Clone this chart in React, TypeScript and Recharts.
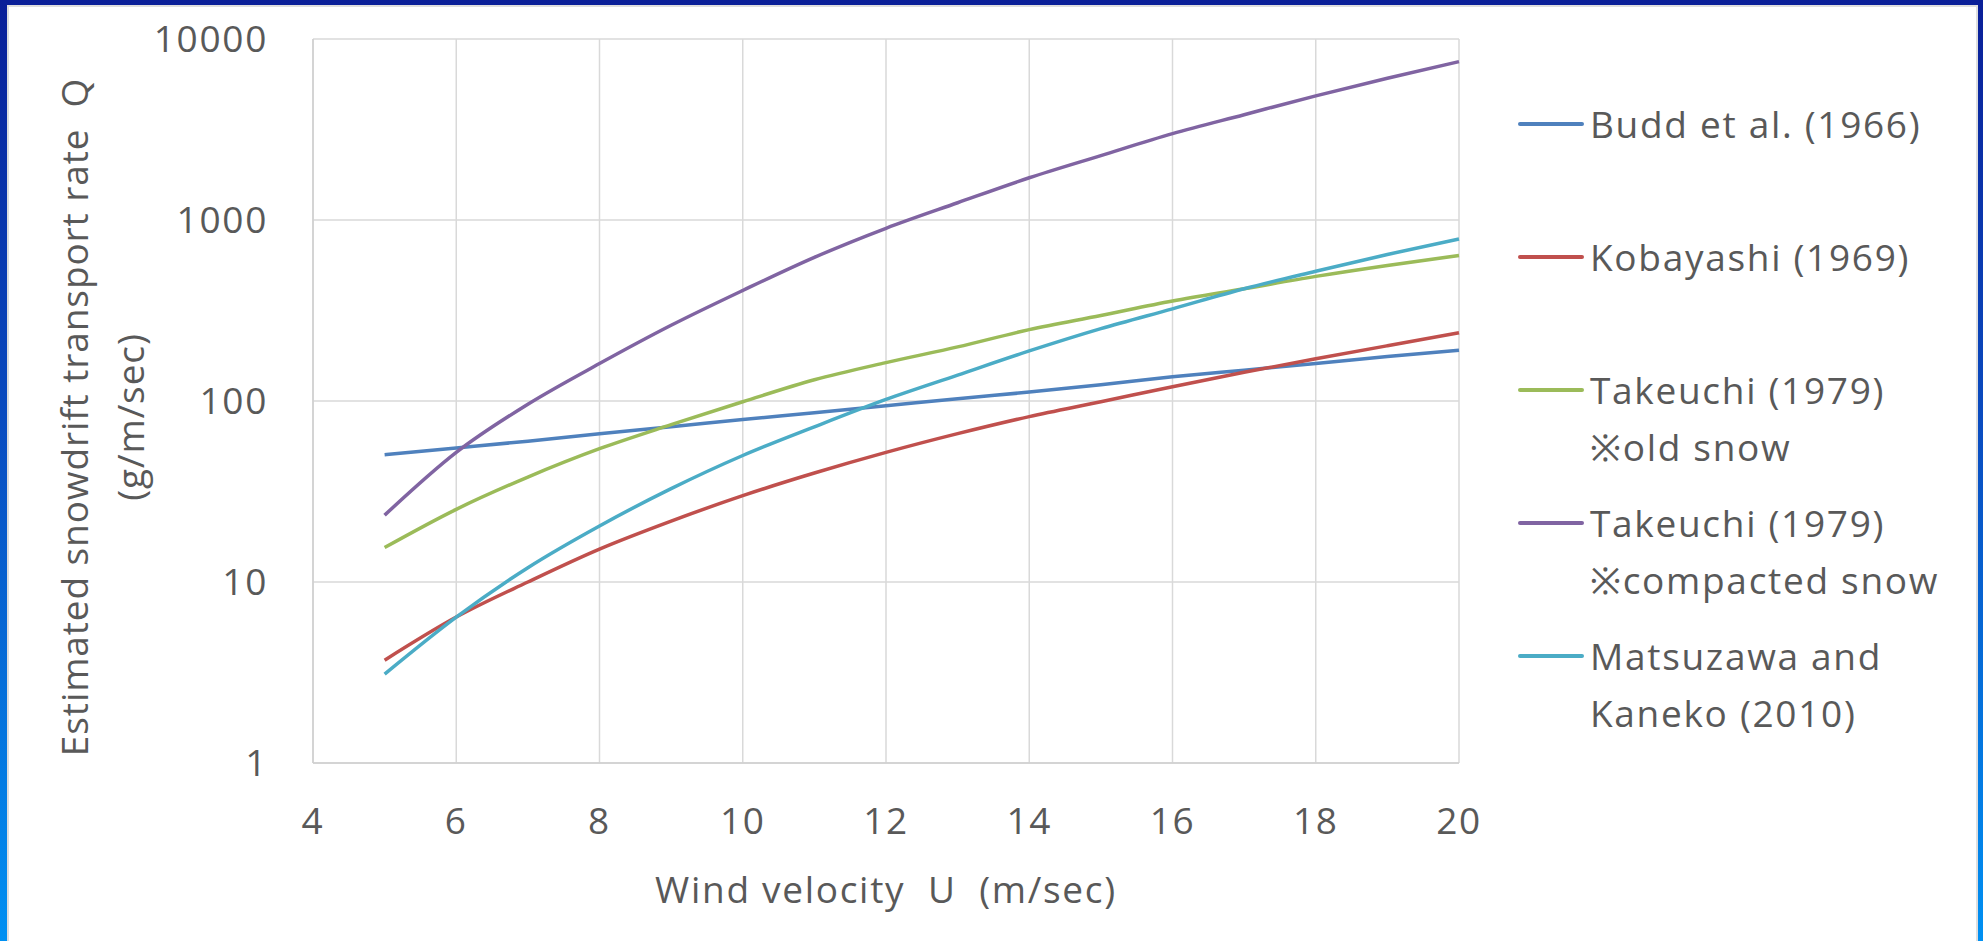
import { CartesianGrid, Line, LineChart, XAxis, YAxis } from 'recharts'

// wind velocity U (m/sec)
const windU = [5, 6, 7, 8, 9, 10, 11, 12, 13, 14, 15, 16, 17, 18, 19, 20]

// estimated snowdrift transport rate Q (g/m/sec)
const budd = [50.5, 55, 60, 66, 72, 79, 86, 94, 103, 112, 123, 136, 148, 161, 176, 191]
const kobayashi = [3.7, 6.4, 10, 15.2, 21.7, 30, 40, 52, 66, 82, 99, 120, 144, 171, 202, 238]
const takeuchiOld = [15.5, 25.2, 38, 54.5, 74, 99, 131, 163, 199, 248, 297, 357, 417, 488, 561, 637]
const takeuchiCompacted = [23.4, 52, 96, 161, 262, 408, 622, 900, 1245, 1711, 2269, 2999, 3818, 4853, 6070, 7499]
const matsuzawa = [3.1, 6.4, 12, 20.4, 32.8, 50, 72, 102, 139, 189, 251, 323, 417, 521, 645, 785]

const xTicks = [4, 6, 8, 10, 12, 14, 16, 18, 20]
const yTicks = [1, 10, 100, 1000, 10000]

const SERIES = [
  { key: 'budd', values: budd, color: '#4F81BD', label: ['Budd et al. (1966)'] },
  { key: 'kobayashi', values: kobayashi, color: '#C0504D', label: ['Kobayashi (1969)'] },
  { key: 'takeuchiOld', values: takeuchiOld, color: '#9BBB59', label: ['Takeuchi (1979)', '※old snow'] },
  { key: 'takeuchiCompacted', values: takeuchiCompacted, color: '#8064A2', label: ['Takeuchi (1979)', '※compacted snow'] },
  { key: 'matsuzawa', values: matsuzawa, color: '#4BACC6', label: ['Matsuzawa and', 'Kaneko (2010)'] }
]

const data = windU.map((u, i) => {
  const row: Record<string, number> = { u }
  SERIES.forEach(s => { row[s.key] = s.values[i] })
  return row
})

const W = 1983
const H = 941
const FONT = '"Open Sans", sans-serif'
const TEXT = '#595959'
const FS = 37
const LS = 1.7

const YTitle = () => (
  <g fill={TEXT} fontFamily={FONT} fontSize={FS} letterSpacing={0.9}>
    <text x={88} y={417} transform="rotate(-90 88 417)" textAnchor="middle" style={{ whiteSpace: 'pre' }}>
      {'Estimated snowdrift transport rate  Q'}
    </text>
    <text x={144} y={417} transform="rotate(-90 144 417)" textAnchor="middle">
      (g/m/sec)
    </text>
  </g>
)

const XTitle = () => (
  <text x={886} y={903} fill={TEXT} fontFamily={FONT} fontSize={FS} letterSpacing={LS} textAnchor="middle" style={{ whiteSpace: 'pre' }}>
    {'Wind velocity  U  (m/sec)'}
  </text>
)

const LegendBox = () => (
  <div style={{ position: 'absolute', left: 1518, top: 0, fontFamily: FONT, fontSize: FS, color: TEXT, letterSpacing: LS }}>
    {SERIES.map((s, i) => (
      <div key={s.key} style={{ position: 'absolute', left: 0, top: 123 + i * 133 - 28, width: 455 }}>
        <div style={{ position: 'absolute', left: 0, top: 27, width: 66, height: 4, background: s.color, borderRadius: 2 }} />
        <div style={{ position: 'absolute', left: 72, top: 0, lineHeight: '57px', whiteSpace: 'nowrap' }}>
          {s.label.map(l => <div key={l}>{l}</div>)}
        </div>
      </div>
    ))}
  </div>
)

export default function App() {
  return (
    <div style={{ position: 'absolute', left: 0, top: 0, width: W, height: H, overflow: 'hidden', background: 'linear-gradient(180deg, #0a1f98 0%, #0a4cc0 45%, #0090f2 100%)' }}>
      <div style={{ position: 'absolute', left: 7, top: 5, width: 1978 - 7, height: H - 5, background: '#fff', boxSizing: 'border-box', borderTop: '2px solid #dedede', borderLeft: '2px solid #dedede', borderRight: '2px solid #dedede' }} />
      <div style={{ position: 'absolute', left: 0, top: 0 }}>
        <LineChart width={W} height={H} data={data} margin={{ top: 39, right: 524, bottom: 0, left: 0 }}>
          <CartesianGrid stroke="#d9d9d9" strokeWidth={1.5} />
          <XAxis
            dataKey="u"
            type="number"
            domain={[4, 20]}
            ticks={xTicks}
            height={178}
            tickSize={0}
            tickMargin={45}
            axisLine={{ stroke: '#cfcfcf', strokeWidth: 1.5 }}
            tick={{ fill: TEXT, fontSize: FS, fontFamily: FONT, letterSpacing: LS }}
            label={<XTitle />}
          />
          <YAxis
            scale="log"
            domain={[1, 10000]}
            ticks={yTicks}
            allowDataOverflow
            width={313}
            tickSize={0}
            tickMargin={45}
            axisLine={{ stroke: '#cfcfcf', strokeWidth: 1.5 }}
            tick={{ fill: TEXT, fontSize: FS, fontFamily: FONT, letterSpacing: LS }}
            label={<YTitle />}
          />
          {SERIES.map(s => (
            <Line
              key={s.key}
              type="monotone"
              dataKey={s.key}
              name={s.label.join(' ')}
              stroke={s.color}
              strokeWidth={3.5}
              dot={false}
              isAnimationActive={false}
            />
          ))}
        </LineChart>
      </div>
      <LegendBox />
    </div>
  )
}
